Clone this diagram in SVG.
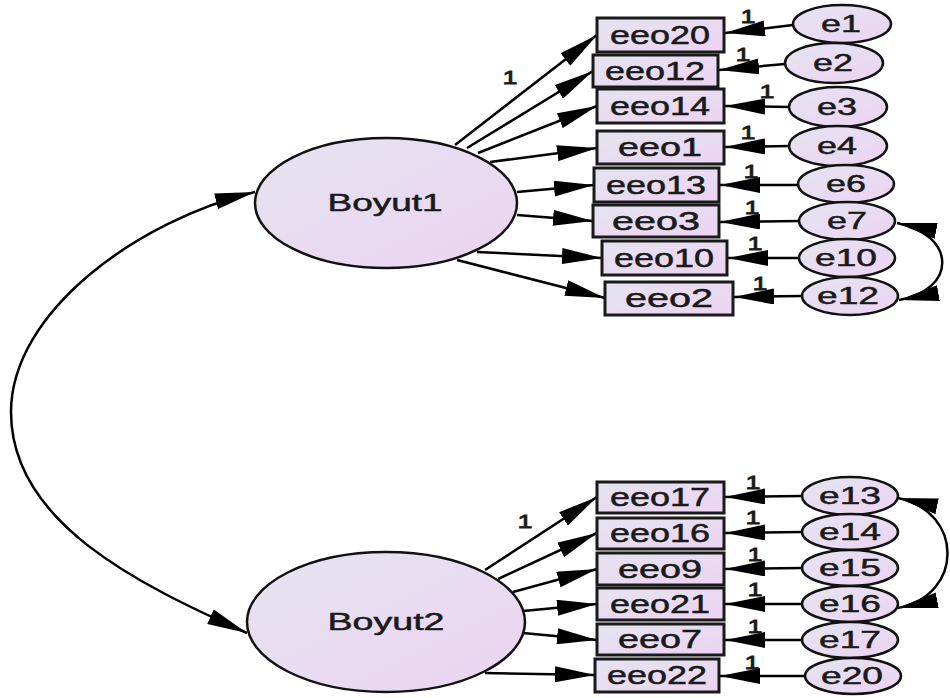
<svg xmlns="http://www.w3.org/2000/svg" width="950" height="698" viewBox="0 0 950 698">
  <defs>
    <linearGradient id="fillG" x1="0" y1="0" x2="1" y2="1">
      <stop offset="0" stop-color="#e4e4f0"/>
      <stop offset="1" stop-color="#edd3f3"/>
    </linearGradient>
    <marker id="ah" markerUnits="userSpaceOnUse" viewBox="0 0 40 16" refX="40" refY="8" markerWidth="40" markerHeight="16" orient="auto-start-reverse">
      <path d="M0,0 L40,8 L0,16 z" fill="#000"/>
    </marker>
    <style>
      .lat { fill: url(#fillG); stroke: #111; stroke-width: 2.5; }
      .obs { fill: url(#fillG); stroke: #1a1a1a; stroke-width: 3; }
      .err { fill: url(#fillG); stroke: #111; stroke-width: 2.5; }
      .t { font-family: "Liberation Sans", Arial, sans-serif; fill: #1a1a1a; stroke: #1a1a1a; stroke-width: 0.5; text-anchor: middle; }
      .tl { font-size: 24px; }
      .to { font-size: 25px; }
      .te { font-size: 24px; }
      .tw { font-size: 19px; stroke-width: 0.8; }
      .arr { stroke: #000; stroke-width: 2.5; fill: none; marker-end: url(#ah); }
      .cov { stroke: #000; stroke-width: 2.5; fill: none; marker-start: url(#ah); marker-end: url(#ah); }
    </style>
  </defs>

  <!-- connectors -->
  <g id="connectors">
    <!-- covariance between latent factors -->
    <path class="cov" d="M255,192 C138,220 11,312 11,412 C11,522 137,584 247,633"/>
    <!-- error covariances -->
    <path class="cov" d="M897,223 C957,235 957,290 899,300"/>
    <path class="cov" d="M898,498 C964,512 964,595 898,608"/>

    <!-- Boyut1 loadings -->
    <line class="arr" x1="455" y1="145" x2="597" y2="35"/>
    <line class="arr" x1="467" y1="148" x2="593" y2="71"/>
    <line class="arr" x1="478" y1="153" x2="597" y2="106"/>
    <line class="arr" x1="490" y1="162" x2="597" y2="148"/>
    <line class="arr" x1="517" y1="192" x2="594" y2="185"/>
    <line class="arr" x1="517" y1="215" x2="593" y2="221"/>
    <line class="arr" x1="477" y1="252" x2="602" y2="258"/>
    <line class="arr" x1="457" y1="260" x2="605" y2="298"/>

    <!-- Boyut2 loadings -->
    <line class="arr" x1="485" y1="570" x2="597" y2="497"/>
    <line class="arr" x1="498" y1="579" x2="597" y2="533"/>
    <line class="arr" x1="513" y1="592" x2="597" y2="569"/>
    <line class="arr" x1="523" y1="611" x2="597" y2="604"/>
    <line class="arr" x1="523" y1="633" x2="597" y2="640"/>
    <line class="arr" x1="485" y1="673" x2="595" y2="675"/>

    <!-- error terms to indicators -->
    <line class="arr" x1="793" y1="25" x2="725" y2="33"/>
    <line class="arr" x1="785" y1="64" x2="719" y2="70"/>
    <line class="arr" x1="789" y1="107" x2="725" y2="106"/>
    <line class="arr" x1="789" y1="146" x2="725" y2="147"/>
    <line class="arr" x1="798" y1="185" x2="720" y2="185"/>
    <line class="arr" x1="800" y1="221" x2="720" y2="222"/>
    <line class="arr" x1="798" y1="258" x2="728" y2="258"/>
    <line class="arr" x1="802" y1="296" x2="734" y2="297"/>
    <line class="arr" x1="802" y1="496" x2="725" y2="497"/>
    <line class="arr" x1="802" y1="532" x2="725" y2="533"/>
    <line class="arr" x1="802" y1="568" x2="725" y2="569"/>
    <line class="arr" x1="802" y1="604" x2="725" y2="604"/>
    <line class="arr" x1="802" y1="640" x2="725" y2="640"/>
    <line class="arr" x1="804" y1="676" x2="720" y2="676"/>

    <!-- regression weight labels -->
    <text class="t tw" x="510" y="84" textLength="15" lengthAdjust="spacingAndGlyphs">1</text>
    <text class="t tw" x="525" y="528" textLength="15" lengthAdjust="spacingAndGlyphs">1</text>
    <text class="t tw" x="748" y="23" textLength="15" lengthAdjust="spacingAndGlyphs">1</text>
    <text class="t tw" x="743" y="61" textLength="15" lengthAdjust="spacingAndGlyphs">1</text>
    <text class="t tw" x="767" y="98" textLength="15" lengthAdjust="spacingAndGlyphs">1</text>
    <text class="t tw" x="748" y="139" textLength="15" lengthAdjust="spacingAndGlyphs">1</text>
    <text class="t tw" x="751" y="178" textLength="15" lengthAdjust="spacingAndGlyphs">1</text>
    <text class="t tw" x="752" y="214" textLength="15" lengthAdjust="spacingAndGlyphs">1</text>
    <text class="t tw" x="755" y="250" textLength="15" lengthAdjust="spacingAndGlyphs">1</text>
    <text class="t tw" x="760" y="290" textLength="15" lengthAdjust="spacingAndGlyphs">1</text>
    <text class="t tw" x="753" y="489" textLength="15" lengthAdjust="spacingAndGlyphs">1</text>
    <text class="t tw" x="753" y="524" textLength="15" lengthAdjust="spacingAndGlyphs">1</text>
    <text class="t tw" x="755" y="561" textLength="15" lengthAdjust="spacingAndGlyphs">1</text>
    <text class="t tw" x="755" y="596" textLength="15" lengthAdjust="spacingAndGlyphs">1</text>
    <text class="t tw" x="755" y="633" textLength="15" lengthAdjust="spacingAndGlyphs">1</text>
    <text class="t tw" x="752" y="669" textLength="15" lengthAdjust="spacingAndGlyphs">1</text>
  </g>

  <!-- latent factors -->
  <g id="Boyut1">
    <ellipse class="lat" cx="386" cy="203" rx="131" ry="65"/>
    <text class="t tl" x="385" y="211" textLength="115" lengthAdjust="spacingAndGlyphs">Boyut1</text>
  </g>
  <g id="Boyut2">
    <ellipse class="lat" cx="386" cy="622" rx="139" ry="70"/>
    <text class="t tl" x="386" y="630" textLength="117" lengthAdjust="spacingAndGlyphs">Boyut2</text>
  </g>

  <!-- observed indicators -->
  <g id="eeo20"><rect class="obs" x="597" y="18" width="127" height="34"/><text class="t to" x="660" y="44" textLength="100" lengthAdjust="spacingAndGlyphs">eeo20</text></g>
  <g id="eeo12"><rect class="obs" x="593" y="55" width="125" height="32"/><text class="t to" x="655" y="80" textLength="100" lengthAdjust="spacingAndGlyphs">eeo12</text></g>
  <g id="eeo14"><rect class="obs" x="597" y="89" width="127" height="34"/><text class="t to" x="660" y="115" textLength="100" lengthAdjust="spacingAndGlyphs">eeo14</text></g>
  <g id="eeo1"><rect class="obs" x="597" y="131" width="127" height="33"/><text class="t to" x="660" y="156" textLength="84" lengthAdjust="spacingAndGlyphs">eeo1</text></g>
  <g id="eeo13"><rect class="obs" x="594" y="168" width="125" height="34"/><text class="t to" x="656" y="194" textLength="100" lengthAdjust="spacingAndGlyphs">eeo13</text></g>
  <g id="eeo3"><rect class="obs" x="593" y="205" width="126" height="32"/><text class="t to" x="656" y="230" textLength="88" lengthAdjust="spacingAndGlyphs">eeo3</text></g>
  <g id="eeo10"><rect class="obs" x="602" y="241" width="125" height="34"/><text class="t to" x="664" y="267" textLength="100" lengthAdjust="spacingAndGlyphs">eeo10</text></g>
  <g id="eeo2"><rect class="obs" x="605" y="282" width="128" height="33"/><text class="t to" x="669" y="307" textLength="88" lengthAdjust="spacingAndGlyphs">eeo2</text></g>

  <g id="eeo17"><rect class="obs" x="597" y="482" width="127" height="31"/><text class="t to" x="660" y="506" textLength="100" lengthAdjust="spacingAndGlyphs">eeo17</text></g>
  <g id="eeo16"><rect class="obs" x="597" y="518" width="127" height="31"/><text class="t to" x="660" y="542" textLength="100" lengthAdjust="spacingAndGlyphs">eeo16</text></g>
  <g id="eeo9"><rect class="obs" x="597" y="553" width="127" height="32"/><text class="t to" x="660" y="578" textLength="84" lengthAdjust="spacingAndGlyphs">eeo9</text></g>
  <g id="eeo21"><rect class="obs" x="597" y="588" width="127" height="32"/><text class="t to" x="660" y="613" textLength="100" lengthAdjust="spacingAndGlyphs">eeo21</text></g>
  <g id="eeo7"><rect class="obs" x="597" y="624" width="127" height="31"/><text class="t to" x="660" y="648" textLength="84" lengthAdjust="spacingAndGlyphs">eeo7</text></g>
  <g id="eeo22"><rect class="obs" x="595" y="659" width="124" height="33"/><text class="t to" x="657" y="684" textLength="100" lengthAdjust="spacingAndGlyphs">eeo22</text></g>

  <!-- error terms -->
  <g id="e1"><ellipse class="err" cx="842" cy="24" rx="49" ry="19"/><text class="t te" x="841" y="32" textLength="40" lengthAdjust="spacingAndGlyphs">e1</text></g>
  <g id="e2"><ellipse class="err" cx="834" cy="63" rx="49" ry="20"/><text class="t te" x="833" y="71" textLength="40" lengthAdjust="spacingAndGlyphs">e2</text></g>
  <g id="e3"><ellipse class="err" cx="838" cy="107" rx="49" ry="20"/><text class="t te" x="837" y="115" textLength="40" lengthAdjust="spacingAndGlyphs">e3</text></g>
  <g id="e4"><ellipse class="err" cx="838" cy="146" rx="49" ry="20"/><text class="t te" x="837" y="154" textLength="40" lengthAdjust="spacingAndGlyphs">e4</text></g>
  <g id="e6"><ellipse class="err" cx="846" cy="184" rx="48" ry="19"/><text class="t te" x="846" y="192" textLength="40" lengthAdjust="spacingAndGlyphs">e6</text></g>
  <g id="e7"><ellipse class="err" cx="847" cy="221" rx="48" ry="19"/><text class="t te" x="847" y="229" textLength="40" lengthAdjust="spacingAndGlyphs">e7</text></g>
  <g id="e10"><ellipse class="err" cx="847" cy="258" rx="48" ry="19"/><text class="t te" x="846" y="266" textLength="62" lengthAdjust="spacingAndGlyphs">e10</text></g>
  <g id="e12"><ellipse class="err" cx="850" cy="296" rx="48" ry="19"/><text class="t te" x="848" y="304" textLength="62" lengthAdjust="spacingAndGlyphs">e12</text></g>

  <g id="e13"><ellipse class="err" cx="850" cy="496" rx="48" ry="19"/><text class="t te" x="850" y="504" textLength="62" lengthAdjust="spacingAndGlyphs">e13</text></g>
  <g id="e14"><ellipse class="err" cx="850" cy="532" rx="48" ry="18"/><text class="t te" x="850" y="540" textLength="62" lengthAdjust="spacingAndGlyphs">e14</text></g>
  <g id="e15"><ellipse class="err" cx="850" cy="568" rx="48" ry="18"/><text class="t te" x="850" y="576" textLength="62" lengthAdjust="spacingAndGlyphs">e15</text></g>
  <g id="e16"><ellipse class="err" cx="850" cy="604" rx="48" ry="18"/><text class="t te" x="850" y="612" textLength="62" lengthAdjust="spacingAndGlyphs">e16</text></g>
  <g id="e17"><ellipse class="err" cx="850" cy="640" rx="48" ry="18"/><text class="t te" x="850" y="648" textLength="62" lengthAdjust="spacingAndGlyphs">e17</text></g>
  <g id="e20"><ellipse class="err" cx="853" cy="676" rx="48" ry="18"/><text class="t te" x="852" y="684" textLength="62" lengthAdjust="spacingAndGlyphs">e20</text></g>
</svg>
